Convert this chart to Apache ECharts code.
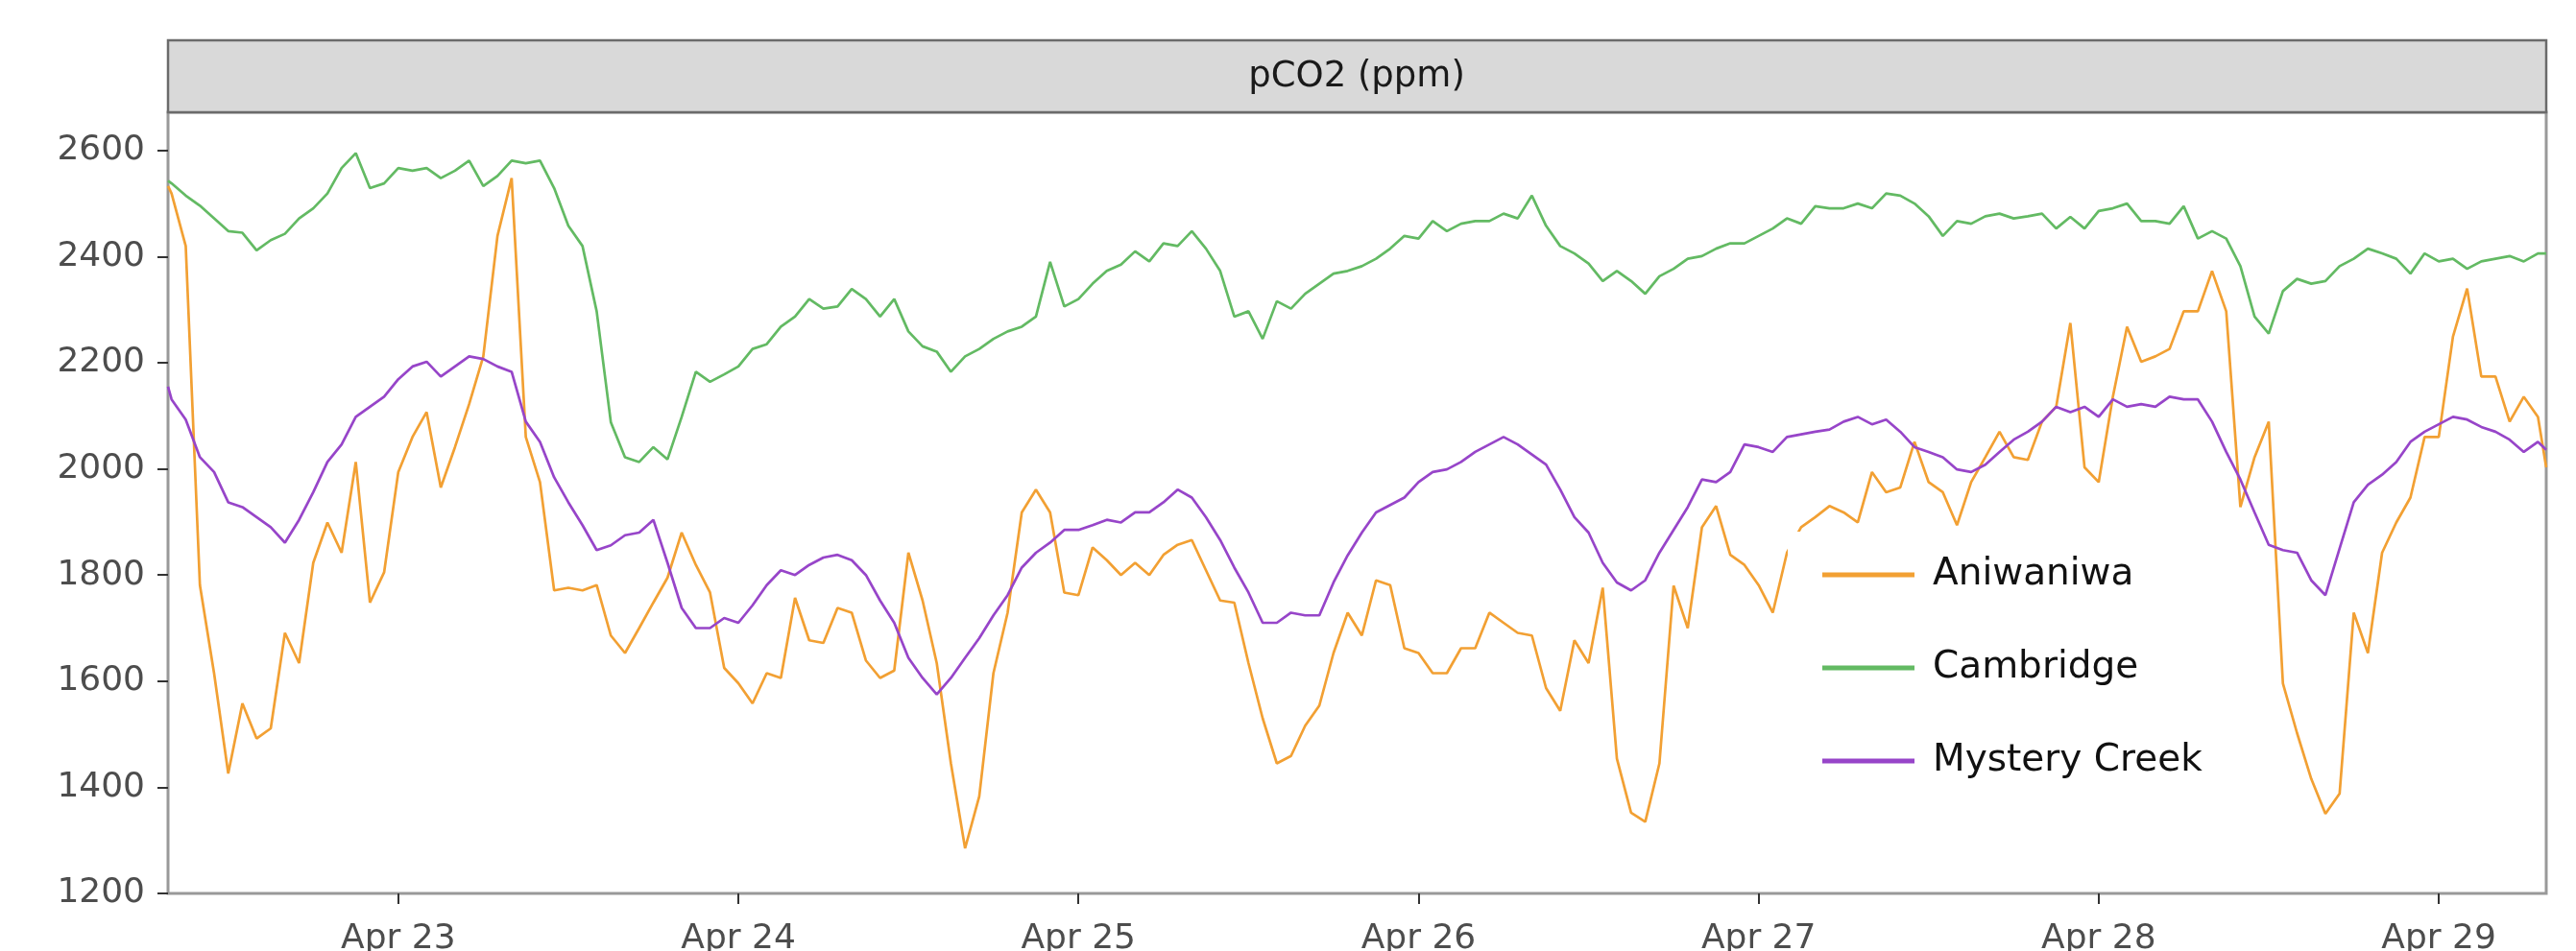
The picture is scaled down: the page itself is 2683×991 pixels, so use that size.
<!DOCTYPE html>
<html><head><meta charset="utf-8">
<script src="https://cdn.jsdelivr.net/npm/echarts@6/dist/echarts.min.js"></script>
<style>html,body{margin:0;padding:0;background:#fff}#c{width:2683px;height:991px}</style>
</head><body><div id="c"></div>
<script>
// ---- data ----
const seriesNames = ['Aniwaniwa', 'Cambridge', 'Mystery Creek'];
const firstTime = '2021-04-22 07:45';
const lastTime = '2021-04-29 07:35';
const firstHour = 8;   // hourly readings, hours after Apr 22 00:00
const lastHour = 175;
const dayTicks = ['2021-04-23', '2021-04-24', '2021-04-25', '2021-04-26', '2021-04-27', '2021-04-28', '2021-04-29'];
const yTicks = [1200, 1400, 1600, 1800, 2000, 2200, 2400, 2600];
const stripLabel = 'pCO2 (ppm)';

const aniwaniwa = [2533,
 2519, 2420, 1781, 1615, 1426, 1558, 1492, 1511, 1691, 1634, 1823, 1899,
 1842, 2013, 1748, 1805, 1994, 2060, 2107, 1965, 2041, 2122, 2212, 2439,
 2548, 2060, 1975, 1771, 1776, 1771, 1781, 1686, 1653, 1700, 1748, 1795,
 1880, 1819, 1767, 1625, 1596, 1558, 1615, 1606, 1757, 1677, 1672, 1738,
 1729, 1639, 1606, 1620, 1842, 1752, 1634, 1445, 1285, 1383, 1615, 1729,
 1918, 1961, 1918, 1767, 1762, 1852, 1828, 1800, 1823, 1800, 1838, 1857,
 1866, 1809, 1752, 1748, 1634, 1530, 1445, 1459, 1516, 1554, 1653, 1729,
 1686, 1790, 1781, 1662, 1653, 1615, 1615, 1662, 1662, 1729, 1710, 1691,
 1686, 1587, 1544, 1677, 1634, 1776, 1454, 1352, 1335, 1445, 1780, 1700,
 1890, 1930, 1838, 1819, 1781, 1729, 1842, 1890, 1909, 1930, 1918, 1899,
 1994, 1956, 1965, 2051, 1975, 1956, 1894, 1975, 2022, 2070, 2022, 2017,
 2089, 2117, 2275, 2003, 1975, 2136, 2268, 2202, 2212, 2226, 2297, 2297,
 2373, 2297, 1928, 2022, 2089, 1596, 1502, 1416, 1350, 1388, 1729, 1653,
 1842, 1899, 1946, 2060, 2060, 2249, 2340, 2174, 2174, 2089, 2136, 2098,
 2003];

const cambridge = [2543,
 2538, 2515, 2496, 2472, 2448, 2445, 2412, 2431, 2443, 2472, 2491, 2519,
 2567, 2595, 2529, 2538, 2567, 2562, 2567, 2548, 2562, 2581, 2533, 2552,
 2581, 2576, 2581, 2529, 2458, 2420, 2297, 2088, 2022, 2013, 2041, 2018,
 2098, 2183, 2164, 2178, 2193, 2226, 2235, 2268, 2287, 2320, 2302, 2306,
 2339, 2320, 2287, 2320, 2259, 2231, 2221, 2183, 2212, 2226, 2245, 2259,
 2268, 2287, 2390, 2306, 2320, 2349, 2373, 2385, 2410, 2391, 2425, 2420,
 2448, 2415, 2373, 2287, 2297, 2245, 2316, 2302, 2330, 2349, 2368, 2373,
 2382, 2396, 2415, 2439, 2434, 2467, 2448, 2462, 2467, 2467, 2481, 2472,
 2515, 2458, 2420, 2406, 2387, 2354, 2373, 2354, 2330, 2363, 2377, 2396,
 2401, 2415, 2425, 2425, 2439, 2453, 2472, 2462, 2495, 2491, 2491, 2500,
 2491, 2519, 2515, 2500, 2476, 2439, 2467, 2462, 2476, 2481, 2472, 2476,
 2481, 2453, 2475, 2453, 2486, 2491, 2500, 2467, 2467, 2462, 2495, 2434,
 2448, 2434, 2382, 2287, 2255, 2335, 2358, 2349, 2354, 2382, 2396, 2415,
 2406, 2396, 2368, 2406, 2391, 2396, 2377, 2391, 2396, 2401, 2391, 2406,
 2406];

const mysteryCreek = [2155,
 2131, 2093, 2022, 1994, 1937, 1928, 1909, 1890, 1861, 1904, 1956, 2013,
 2046, 2098, 2117, 2136, 2169, 2193, 2202, 2174, 2193, 2212, 2207, 2193,
 2183, 2089, 2051, 1984, 1937, 1894, 1847, 1856, 1875, 1880, 1904, 1823,
 1738, 1700, 1700, 1719, 1710, 1743, 1781, 1809, 1800, 1819, 1833, 1838,
 1828, 1800, 1752, 1710, 1644, 1606, 1575, 1606, 1644, 1681, 1724, 1762,
 1814, 1842, 1861, 1885, 1885, 1894, 1904, 1899, 1918, 1918, 1937, 1961,
 1946, 1909, 1866, 1814, 1767, 1710, 1710, 1729, 1724, 1724, 1786, 1837,
 1880, 1918, 1932, 1946, 1975, 1994, 1999, 2013, 2032, 2046, 2060, 2046,
 2027, 2008, 1961, 1909, 1880, 1823, 1786, 1771, 1790, 1842, 1885, 1928,
 1980, 1975, 1994, 2046, 2041, 2032, 2060, 2065, 2070, 2074, 2089, 2098,
 2084, 2093, 2070, 2041, 2032, 2022, 1999, 1994, 2008, 2032, 2055, 2070,
 2089, 2117, 2107, 2117, 2098, 2131, 2117, 2122, 2117, 2136, 2131, 2131,
 2089, 2032, 1980, 1918, 1857, 1847, 1842, 1790, 1762, 1850, 1937, 1970,
 1989, 2013, 2051, 2070, 2084, 2098, 2093, 2079, 2070, 2055, 2032, 2051,
 2036];

// ---- helpers ----
function toMs(s) {
  const parts = s.split(' ');
  const d = parts[0].split('-').map(Number);
  const hm = (parts[1] || '00:00').split(':').map(Number);
  return new Date(d[0], d[1] - 1, d[2], hm[0], hm[1]).getTime();
}
const times = [toMs(firstTime)];
for (let h = firstHour; h <= lastHour; h++) times.push(new Date(2021, 3, 22, h, 0).getTime());
times.push(toMs(lastTime));
const pair = vals => vals.map((v, i) => [times[i], v]);
const MONTHS = ['Jan','Feb','Mar','Apr','May','Jun','Jul','Aug','Sep','Oct','Nov','Dec'];
const dayTickMs = dayTicks.map(toMs);

const FONT = 'DejaVu Sans';
const colors = ['#F2A033', '#63BA63', '#9745C9'];
const valuesList = [aniwaniwa, cambridge, mysteryCreek];

const chart = echarts.init(document.getElementById('c'), null, { renderer: 'canvas' });
chart.setOption({
  animation: false,
  backgroundColor: '#ffffff',
  grid: { left: 175, right: 31, top: 117, bottom: 60, outerBoundsMode: 'none', containLabel: false,
          show: true, borderColor: '#999999', borderWidth: 3, backgroundColor: '#ffffff' },
  xAxis: {
    type: 'value',
    min: toMs(firstTime), max: toMs(lastTime),
    axisLine: { show: false },
    splitLine: { show: false },
    axisTick: { show: true, length: 11, lineStyle: { color: '#333333', width: 2 }, customValues: dayTickMs },
    axisLabel: {
      customValues: dayTickMs, margin: 30,
      fontFamily: FONT, fontSize: 36, color: '#4D4D4D',
      formatter: v => { const d = new Date(v); return MONTHS[d.getMonth()] + ' ' + d.getDate(); }
    }
  },
  yAxis: {
    type: 'value', min: 1200, max: 2672,
    axisLine: { show: false },
    splitLine: { show: false },
    axisTick: { show: true, length: 11, lineStyle: { color: '#333333', width: 2 }, customValues: yTicks },
    axisLabel: { customValues: yTicks, margin: 24, fontFamily: FONT, fontSize: 36, color: '#4D4D4D', formatter: v => String(v) }
  },
  legend: {
    orient: 'vertical', left: 1862, top: 554,
    padding: [25, 40, 40, 36], backgroundColor: '#ffffff',
    icon: 'rect',
    itemWidth: 96, itemHeight: 5, itemGap: 57,
    textStyle: { fontFamily: FONT, fontSize: 39, color: '#111111', padding: [0, 0, 0, 14], lineHeight: 40 },
    data: seriesNames
  },
  graphic: [
    { type: 'rect', z: 100, shape: { x: 175, y: 42, width: 2477, height: 75 }, style: { fill: '#D9D9D9', stroke: '#6b6b6b', lineWidth: 2.5 } },
    { type: 'text', z: 101, x: 1413, y: 80, style: { text: stripLabel, font: '37px "DejaVu Sans"', fill: '#1A1A1A', align: 'center', verticalAlign: 'middle' } }
  ],
  series: seriesNames.map((name, i) => ({
    name, type: 'line', showSymbol: false, symbol: 'none',
    data: pair(valuesList[i]),
    lineStyle: { width: 2.7, color: colors[i] },
    itemStyle: { color: colors[i] },
    emphasis: { disabled: true }
  }))
});
</script></body></html>
